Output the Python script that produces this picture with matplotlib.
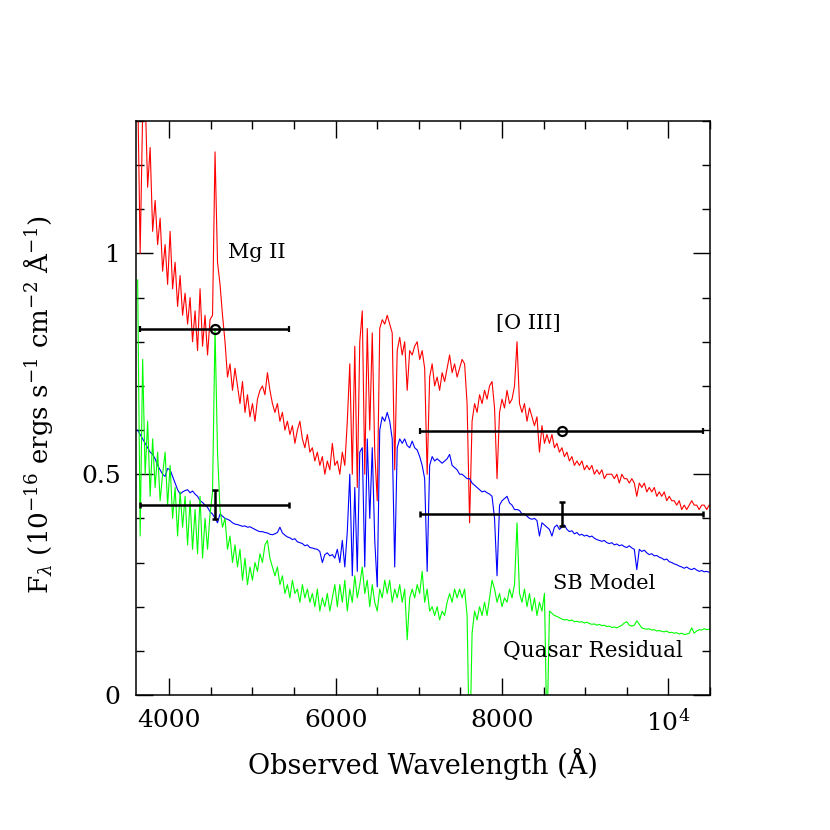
import numpy as np
import matplotlib
matplotlib.use("Agg")
import matplotlib.pyplot as plt
from matplotlib.ticker import MultipleLocator, FixedLocator

plt.rcParams['font.family'] = ['DejaVu Serif']
plt.rcParams['mathtext.fontset'] = 'dejavuserif'

# wavelength grid of the spectra (Angstrom), one sample every 30 A
wave = np.arange(3620, 10500, 30)

# observed spectrum (red)
observed = [
    1.38, 1.00, 1.32, 1.36, 1.15, 1.24, 1.05, 1.12, 1.02, 1.08,   # 3620
    0.96, 1.02, 0.93, 1.05, 0.92, 0.98, 0.88, 0.95, 0.86, 0.91,   # 3920
    0.84, 0.90, 0.80, 0.87, 0.78, 0.92, 0.79, 0.86, 0.77, 0.85,   # 4220
    0.86, 1.23, 0.98, 0.93, 0.86, 0.80, 0.72, 0.75, 0.69, 0.74,   # 4520
    0.70, 0.66, 0.71, 0.64, 0.68, 0.63, 0.66, 0.62, 0.67, 0.69,   # 4820
    0.70, 0.68, 0.73, 0.69, 0.66, 0.64, 0.66, 0.62, 0.64, 0.60,   # 5120
    0.62, 0.59, 0.61, 0.57, 0.60, 0.62, 0.58, 0.56, 0.59, 0.55,   # 5420
    0.56, 0.53, 0.55, 0.52, 0.54, 0.50, 0.53, 0.51, 0.57, 0.52,   # 5720
    0.53, 0.50, 0.55, 0.52, 0.62, 0.75, 0.50, 0.79, 0.47, 0.80,   # 6020
    0.87, 0.50, 0.83, 0.60, 0.82, 0.55, 0.44, 0.83, 0.85, 0.84,   # 6320
    0.86, 0.84, 0.82, 0.51, 0.78, 0.81, 0.77, 0.80, 0.69, 0.78,   # 6620
    0.77, 0.79, 0.80, 0.76, 0.78, 0.74, 0.50, 0.72, 0.75, 0.70,   # 6920
    0.72, 0.69, 0.73, 0.71, 0.74, 0.77, 0.73, 0.75, 0.72, 0.74,   # 7220
    0.76, 0.75, 0.66, 0.39, 0.62, 0.66, 0.64, 0.68, 0.66, 0.69,   # 7520
    0.67, 0.70, 0.71, 0.65, 0.49, 0.64, 0.67, 0.65, 0.69, 0.66,   # 7820
    0.67, 0.70, 0.80, 0.66, 0.64, 0.66, 0.62, 0.65, 0.63, 0.61,   # 8120
    0.63, 0.55, 0.61, 0.57, 0.59, 0.57, 0.59, 0.56, 0.57, 0.55,   # 8420
    0.56, 0.54, 0.55, 0.53, 0.54, 0.52, 0.53, 0.52, 0.53, 0.51,   # 8720
    0.52, 0.51, 0.52, 0.50, 0.51, 0.50, 0.51, 0.49, 0.50, 0.50,   # 9020
    0.50, 0.49, 0.50, 0.48, 0.50, 0.49, 0.49, 0.48, 0.49, 0.48,   # 9320
    0.45, 0.48, 0.47, 0.48, 0.46, 0.47, 0.46, 0.47, 0.45, 0.46,   # 9620
    0.45, 0.46, 0.44, 0.45, 0.44, 0.44, 0.43, 0.44, 0.42, 0.43,   # 9920
    0.42, 0.43, 0.44, 0.43, 0.43, 0.42, 0.43, 0.43, 0.42, 0.43,   # 10220
]

# starburst model (blue)
sb_model = [
    0.600, 0.590, 0.580, 0.570, 0.560, 0.550, 0.545, 0.535, 0.520, 0.510,
    0.500, 0.495, 0.513, 0.510, 0.495, 0.480, 0.465, 0.455, 0.460, 0.463,
    0.465, 0.458, 0.462, 0.455, 0.450, 0.440, 0.436, 0.430, 0.425, 0.415,
    0.410, 0.400, 0.390, 0.410, 0.405, 0.400, 0.398, 0.395, 0.390, 0.387,
    0.386, 0.384, 0.382, 0.383, 0.380, 0.381, 0.378, 0.375, 0.372, 0.370,
    0.370, 0.368, 0.367, 0.364, 0.363, 0.365, 0.368, 0.380, 0.367, 0.362,
    0.358, 0.356, 0.352, 0.354, 0.347, 0.345, 0.343, 0.338, 0.340, 0.334,
    0.333, 0.331, 0.330, 0.325, 0.300, 0.318, 0.322, 0.315, 0.318, 0.310,
    0.330, 0.300, 0.350, 0.290, 0.370, 0.500, 0.270, 0.470, 0.280, 0.550,
    0.560, 0.290, 0.580, 0.400, 0.560, 0.350, 0.245, 0.600, 0.630, 0.620,
    0.640, 0.620, 0.580, 0.290, 0.560, 0.580, 0.570, 0.580, 0.565, 0.560,
    0.575, 0.560, 0.555, 0.540, 0.520, 0.490, 0.280, 0.520, 0.540, 0.530,
    0.535, 0.530, 0.525, 0.530, 0.535, 0.545, 0.520, 0.515, 0.510, 0.500,
    0.500, 0.495, 0.490, 0.490, 0.480, 0.475, 0.470, 0.465, 0.460, 0.462,
    0.458, 0.455, 0.450, 0.400, 0.270, 0.430, 0.440, 0.445, 0.450, 0.435,
    0.430, 0.420, 0.420, 0.418, 0.410, 0.410, 0.405, 0.400, 0.398, 0.400,
    0.395, 0.360, 0.390, 0.385, 0.380, 0.375, 0.360, 0.380, 0.385, 0.375,
    0.380, 0.385, 0.375, 0.370, 0.372, 0.365, 0.368, 0.362, 0.364, 0.360,
    0.362, 0.358, 0.360, 0.355, 0.352, 0.350, 0.348, 0.350, 0.345, 0.343,
    0.345, 0.340, 0.342, 0.338, 0.340, 0.336, 0.334, 0.338, 0.333, 0.330,
    0.284, 0.330, 0.325, 0.328, 0.322, 0.318, 0.320, 0.315, 0.316, 0.312,
    0.310, 0.306, 0.308, 0.302, 0.300, 0.297, 0.295, 0.292, 0.290, 0.287,
    0.290, 0.286, 0.284, 0.287, 0.283, 0.280, 0.282, 0.279, 0.280, 0.278,
]

# quasar residual (green)
residual = [
    0.94, 0.36, 0.76, 0.50, 0.62, 0.45, 0.58, 0.47, 0.55, 0.44,
    0.50, 0.55, 0.43, 0.52, 0.40, 0.47, 0.36, 0.46, 0.38, 0.45,
    0.34, 0.44, 0.33, 0.42, 0.32, 0.45, 0.31, 0.40, 0.33, 0.41,
    0.46, 0.83, 0.55, 0.42, 0.38, 0.40, 0.33, 0.36, 0.30, 0.34,
    0.29, 0.33, 0.26, 0.31, 0.25, 0.29, 0.26, 0.30, 0.28, 0.32,
    0.30, 0.34, 0.35, 0.31, 0.29, 0.27, 0.29, 0.25, 0.27, 0.23,
    0.25, 0.22, 0.26, 0.23, 0.24, 0.21, 0.25, 0.22, 0.24, 0.21,
    0.23, 0.20, 0.24, 0.19, 0.22, 0.20, 0.23, 0.19, 0.22, 0.25,
    0.20, 0.25, 0.21, 0.26, 0.19, 0.24, 0.21, 0.27, 0.22, 0.25,
    0.29, 0.23, 0.26, 0.20, 0.25, 0.21, 0.19, 0.24, 0.22, 0.26,
    0.23, 0.26, 0.21, 0.24, 0.22, 0.25, 0.21, 0.24, 0.125, 0.22,
    0.24, 0.22, 0.25, 0.23, 0.28, 0.21, 0.24, 0.19, 0.20, 0.18,
    0.20, 0.17, 0.19, 0.18, 0.21, 0.23, 0.21, 0.24, 0.22, 0.24,
    0.22, 0.24, 0.18, -0.15, 0.14, 0.19, 0.17, 0.20, 0.18, 0.21,
    0.18, 0.22, 0.26, 0.24, 0.21, 0.23, 0.20, 0.22, 0.21, 0.24,
    0.22, 0.25, 0.39, 0.23, 0.21, 0.24, 0.20, 0.23, 0.19, 0.22,
    0.18, 0.21, 0.19, 0.23, -0.10, 0.19, 0.185, 0.18, 0.178, 0.175,
    0.172, 0.170, 0.171, 0.168, 0.170, 0.166, 0.167, 0.165, 0.166, 0.163,
    0.165, 0.162, 0.160, 0.161, 0.158, 0.160, 0.157, 0.158, 0.155, 0.156,
    0.153, 0.154, 0.152, 0.155, 0.158, 0.163, 0.166, 0.158, 0.156, 0.158,
    0.168, 0.160, 0.152, 0.150, 0.149, 0.150, 0.147, 0.148, 0.145, 0.146,
    0.144, 0.143, 0.145, 0.141, 0.142, 0.140, 0.141, 0.138, 0.140, 0.137,
    0.138, 0.140, 0.152, 0.140, 0.145, 0.148, 0.147, 0.150, 0.148, 0.149,
]

# broad-band photometry points (x, y, half width, y error)
phot_x = [4545, 8715]
phot_half = [900, 1703]
phot_obs = [0.829, 0.599]
phot_mod = [0.431, 0.410]
phot_mod_err = [0.033, 0.028]

fig = plt.figure(figsize=(8.3, 8.3), dpi=100)
ax = fig.add_axes([136 / 830, 135 / 830, 574 / 830, 574 / 830])

ax.plot(wave, observed, color='#ff0000', lw=0.8)
ax.plot(wave, sb_model, color='#0000ff', lw=0.8)
ax.plot(wave, residual, color='#00ff00', lw=0.8)

ax.errorbar(phot_x, phot_obs, xerr=phot_half, fmt='o', mfc='none', mec='black',
            mew=1.6, ms=6.5, ecolor='black', elinewidth=1.8, capsize=2.5, capthick=1.8)
ax.errorbar(phot_x, phot_mod, xerr=phot_half, yerr=phot_mod_err, fmt='none',
            ecolor='black', elinewidth=1.8, capsize=2.5, capthick=1.8)

ax.text(4706, 0.990, 'Mg II', fontsize=15, va='baseline')
ax.text(7923, 0.830, '[O III]', fontsize=15, va='baseline')
ax.text(8608, 0.2406, 'SB Model', fontsize=15, va='baseline')
ax.text(8011, 0.0855, 'Quasar Residual', fontsize=15.5, va='baseline')

ax.set_xlim(3600, 10500)
ax.set_ylim(0, 1.3)

ax.xaxis.set_major_locator(FixedLocator([4000, 6000, 8000, 10000]))
ax.set_xticklabels(['4000', '6000', '8000', r'10$^4$'])
ax.xaxis.set_minor_locator(MultipleLocator(500))
ax.yaxis.set_major_locator(FixedLocator([0, 0.5, 1]))
ax.set_yticklabels(['0', '0.5', '1'])
ax.yaxis.set_minor_locator(MultipleLocator(0.1))

ax.tick_params(which='both', direction='in', top=True, right=True, width=1.0, labelsize=18)
ax.tick_params(which='major', length=12)
ax.tick_params(which='minor', length=6)
ax.tick_params(axis='x', pad=10)
ax.tick_params(axis='y', pad=11)
for s in ax.spines.values():
    s.set_linewidth(1.1)

fig.text(423 / 830, 1 - 774 / 830, 'Observed Wavelength (Å)', fontsize=19.5,
         ha='center', va='baseline')
fig.text(38 / 830, 1 - 405 / 830,
         r'F$_\lambda$ (10$^{-16}$ ergs s$^{-1}$ cm$^{-2}$ Å$^{-1}$)',
         fontsize=18.8, rotation=90, ha='center', va='center')

fig.savefig('out.png', dpi=100)
